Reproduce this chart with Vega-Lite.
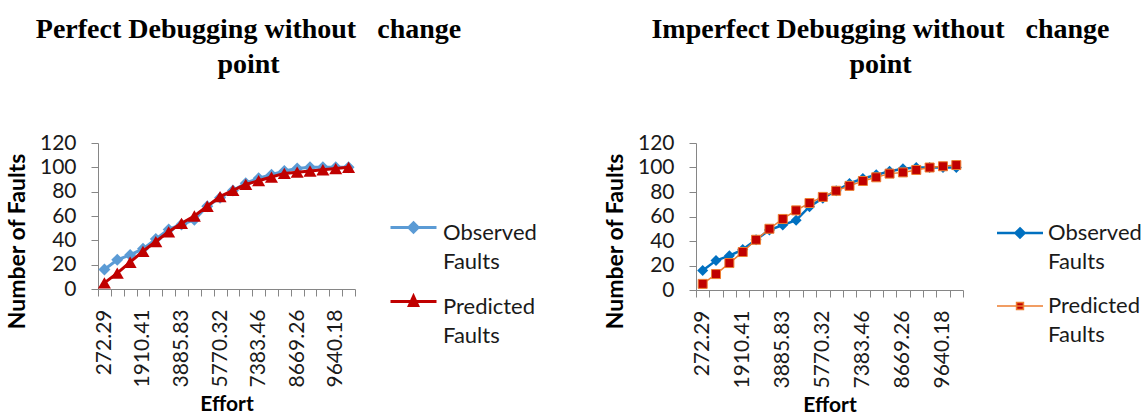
{
  "$schema": "https://vega.github.io/schema/vega-lite/v6.json",
  "padding": {"left": 6, "top": 16, "right": 0, "bottom": 0},
  "background": "white",
  "config": {"view": {"stroke": null}, "font": "Lato", "concat": {"spacing": 67}},
  "datasets": {
    "perfect": [
      {"effort": "272.29", "Observed Faults": 16, "Predicted Faults": 5},
      {"effort": "812.47", "Observed Faults": 24, "Predicted Faults": 13},
      {"effort": "1356.90", "Observed Faults": 28, "Predicted Faults": 22},
      {"effort": "1910.41", "Observed Faults": 33, "Predicted Faults": 31},
      {"effort": "2563.12", "Observed Faults": 41, "Predicted Faults": 39},
      {"effort": "3218.75", "Observed Faults": 49, "Predicted Faults": 47},
      {"effort": "3885.83", "Observed Faults": 53, "Predicted Faults": 54},
      {"effort": "4508.64", "Observed Faults": 57, "Predicted Faults": 60},
      {"effort": "5134.27", "Observed Faults": 68, "Predicted Faults": 68},
      {"effort": "5770.32", "Observed Faults": 75, "Predicted Faults": 76},
      {"effort": "6318.05", "Observed Faults": 81, "Predicted Faults": 81},
      {"effort": "6861.73", "Observed Faults": 87, "Predicted Faults": 86},
      {"effort": "7383.46", "Observed Faults": 91, "Predicted Faults": 89},
      {"effort": "7812.58", "Observed Faults": 94, "Predicted Faults": 92},
      {"effort": "8241.09", "Observed Faults": 97, "Predicted Faults": 95},
      {"effort": "8669.26", "Observed Faults": 99, "Predicted Faults": 96},
      {"effort": "8993.41", "Observed Faults": 100, "Predicted Faults": 97},
      {"effort": "9317.62", "Observed Faults": 100, "Predicted Faults": 98},
      {"effort": "9640.18", "Observed Faults": 100, "Predicted Faults": 99},
      {"effort": "9958.37", "Observed Faults": 100, "Predicted Faults": 100}
    ],
    "imperfect": [
      {"effort": "272.29", "Observed Faults": 16, "Predicted Faults": 5},
      {"effort": "812.47", "Observed Faults": 24, "Predicted Faults": 13},
      {"effort": "1356.90", "Observed Faults": 28, "Predicted Faults": 22},
      {"effort": "1910.41", "Observed Faults": 33, "Predicted Faults": 31},
      {"effort": "2563.12", "Observed Faults": 41, "Predicted Faults": 41},
      {"effort": "3218.75", "Observed Faults": 49, "Predicted Faults": 50},
      {"effort": "3885.83", "Observed Faults": 53, "Predicted Faults": 58},
      {"effort": "4508.64", "Observed Faults": 57, "Predicted Faults": 65},
      {"effort": "5134.27", "Observed Faults": 68, "Predicted Faults": 71},
      {"effort": "5770.32", "Observed Faults": 75, "Predicted Faults": 76},
      {"effort": "6318.05", "Observed Faults": 81, "Predicted Faults": 81},
      {"effort": "6861.73", "Observed Faults": 87, "Predicted Faults": 85},
      {"effort": "7383.46", "Observed Faults": 91, "Predicted Faults": 89},
      {"effort": "7812.58", "Observed Faults": 94, "Predicted Faults": 92},
      {"effort": "8241.09", "Observed Faults": 97, "Predicted Faults": 95},
      {"effort": "8669.26", "Observed Faults": 99, "Predicted Faults": 96},
      {"effort": "8993.41", "Observed Faults": 100, "Predicted Faults": 98},
      {"effort": "9317.62", "Observed Faults": 100, "Predicted Faults": 100},
      {"effort": "9640.18", "Observed Faults": 100, "Predicted Faults": 101},
      {"effort": "9958.37", "Observed Faults": 100, "Predicted Faults": 102}
    ]
  },
  "hconcat": [
    {
      "width": 257,
      "height": 146,
      "title": {"text": ["Perfect Debugging without\u00a0\u00a0 change", "point"], "font": "Liberation Serif", "fontSize": 28, "fontWeight": "bold", "lineHeight": 35, "anchor": "middle", "dx": 22, "offset": 53, "color": "#000"},
      "data": {"name": "perfect"},
      "transform": [{"fold": ["Observed Faults", "Predicted Faults"], "as": ["series", "faults"]}],
      "encoding": {
        "x": {"field": "effort", "type": "nominal", "sort": null,
          "scale": {"type": "band", "paddingInner": 0, "paddingOuter": 0},
          "axis": {"title": "Effort", "titleFontSize": 21, "titleFontWeight": "bold", "titleColor": "#000", "titlePadding": 6,
            "labelAngle": 270, "labelFontSize": 21, "labelColor": "#1a1a1a", "labelPadding": 13, "labelOverlap": false, "labelBound": false,
            "labelExpr": "indexof(['272.29','1910.41','3885.83','5770.32','7383.46','8669.26','9640.18'], datum.value) >= 0 ? datum.label : ''",
            "tickBand": "extent", "tickSize": 7, "tickColor": "#868686", "domainColor": "#868686"}},
        "y": {"field": "faults", "type": "quantitative",
          "scale": {"domain": [0, 120], "nice": false},
          "axis": {"title": "Number of Faults", "titleFontSize": 23, "titleFontWeight": "bold", "titleColor": "#000", "titlePadding": 10, "titleY": 98,
            "values": [0, 20, 40, 60, 80, 100, 120], "grid": false, "labelFontSize": 21, "labelColor": "#1a1a1a", "labelPadding": 15,
            "tickSize": 7, "tickColor": "#868686", "domainColor": "#868686"}}
      },
      "layer": [
        {"transform": [{"filter": "datum.series === 'Observed Faults'"}],
         "mark": {"type": "line", "strokeWidth": 3},
         "encoding": {"color": {"field": "series", "type": "nominal",
           "scale": {"domain": ["Observed Faults", "Predicted Faults"], "range": ["#5B9BD5", "#C00000"]},
           "legend": {"title": null, "orient": "none", "legendX": 291, "legendY": 60, "padding": 0,
             "labelFont": "Lato", "labelFontSize": 22, "labelColor": "#1a1a1a", "labelLimit": 0, "labelOffset": 5,
             "labelExpr": "split(datum.label, ' ')",
             "symbolSize": 2116, "symbolStrokeWidth": 3, "rowPadding": 4,
             "encode": {
               "symbols": {"update": {
                 "shape": {"signal": "datum.value === 'Observed Faults' ? 'M-1,0H1M0,-0.2L0.2,0L0,0.2L-0.2,0Z' : 'M-1,0H1M0,-0.22L0.18,0.17L-0.18,0.17Z'"},
                 "fill": {"signal": "datum.value === 'Observed Faults' ? '#5B9BD5' : '#C00000'"},
                 "stroke": {"signal": "datum.value === 'Observed Faults' ? '#5B9BD5' : '#C00000'"},
                 "strokeWidth": {"value": 3},
                 "opacity": {"value": 1}
               }},
               "labels": {"update": {"lineHeight": {"value": 29}, "dy": {"value": 5}}}
             }}}}},
        {"transform": [{"filter": "datum.series === 'Observed Faults'"}],
         "mark": {"type": "point", "shape": "diamond", "filled": true, "size": 144, "color": "#5B9BD5", "opacity": 1}},
        {"transform": [{"filter": "datum.series === 'Predicted Faults'"}],
         "mark": {"type": "line", "strokeWidth": 3},
         "encoding": {"color": {"field": "series", "type": "nominal"}}},
        {"transform": [{"filter": "datum.series === 'Predicted Faults'"}],
         "mark": {"type": "point", "shape": "triangle-up", "filled": true, "size": 170, "color": "#C00000", "opacity": 1}}
      ]
    },
    {
      "width": 267,
      "height": 147,
      "title": {"text": ["Imperfect Debugging without\u00a0\u00a0 change", "point"], "font": "Liberation Serif", "fontSize": 28, "fontWeight": "bold", "lineHeight": 35, "anchor": "middle", "dx": 51, "offset": 53, "color": "#000"},
      "data": {"name": "imperfect"},
      "transform": [{"fold": ["Observed Faults", "Predicted Faults"], "as": ["series", "faults"]}],
      "encoding": {
        "x": {"field": "effort", "type": "nominal", "sort": null,
          "scale": {"type": "band", "paddingInner": 0, "paddingOuter": 0},
          "axis": {"title": "Effort", "titleFontSize": 21, "titleFontWeight": "bold", "titleColor": "#000", "titlePadding": 6,
            "labelAngle": 270, "labelFontSize": 21, "labelColor": "#1a1a1a", "labelPadding": 13, "labelOverlap": false, "labelBound": false,
            "labelExpr": "indexof(['272.29','1910.41','3885.83','5770.32','7383.46','8669.26','9640.18'], datum.value) >= 0 ? datum.label : ''",
            "tickBand": "extent", "tickSize": 7, "tickColor": "#868686", "domainColor": "#868686"}},
        "y": {"field": "faults", "type": "quantitative",
          "scale": {"domain": [0, 120], "nice": false},
          "axis": {"title": "Number of Faults", "titleFontSize": 23, "titleFontWeight": "bold", "titleColor": "#000", "titlePadding": 10, "titleY": 98,
            "values": [0, 20, 40, 60, 80, 100, 120], "grid": false, "labelFontSize": 21, "labelColor": "#1a1a1a", "labelPadding": 15,
            "tickSize": 7, "tickColor": "#868686", "domainColor": "#868686"}}
      },
      "layer": [
        {"transform": [{"filter": "datum.series === 'Observed Faults'"}],
         "mark": {"type": "line", "strokeWidth": 2.5},
         "encoding": {"color": {"field": "series", "type": "nominal",
           "scale": {"domain": ["Observed Faults", "Predicted Faults"], "range": ["#0070C0", "#ED7D31"]},
           "legend": {"title": null, "orient": "none", "legendX": 313, "legendY": 79, "padding": 0,
             "labelFont": "Lato", "labelFontSize": 22, "labelColor": "#1a1a1a", "labelLimit": 0, "labelOffset": 17,
             "labelExpr": "split(datum.label, ' ')",
             "symbolSize": 2116, "symbolStrokeWidth": 2, "rowPadding": 22,
             "encode": {
               "symbols": {"update": {
                 "shape": {"signal": "datum.value === 'Observed Faults' ? 'M-1,0H1M0,-0.2L0.2,0L0,0.2L-0.2,0Z' : 'M-1,0H1M-0.15,-0.15H0.15V0.15H-0.15Z'"},
                 "fill": {"signal": "datum.value === 'Observed Faults' ? '#0070C0' : '#C00000'"},
                 "stroke": {"signal": "datum.value === 'Observed Faults' ? '#0070C0' : '#ED7D31'"},
                 "strokeWidth": {"signal": "datum.value === 'Observed Faults' ? 2.5 : 1.5"},
                 "opacity": {"value": 1}
               }},
               "labels": {"update": {"lineHeight": {"value": 29}}}
             }}}}},
        {"transform": [{"filter": "datum.series === 'Observed Faults'"}],
         "mark": {"type": "point", "shape": "diamond", "filled": true, "size": 121, "color": "#0070C0", "opacity": 1}},
        {"transform": [{"filter": "datum.series === 'Predicted Faults'"}],
         "mark": {"type": "line", "strokeWidth": 1.5},
         "encoding": {"color": {"field": "series", "type": "nominal"}}},
        {"transform": [{"filter": "datum.series === 'Predicted Faults'"}],
         "mark": {"type": "point", "shape": "square", "filled": true, "size": 81, "fill": "#C00000", "stroke": "#ED7D31", "strokeWidth": 1, "opacity": 1}}
      ]
    }
  ],
  "resolve": {"scale": {"color": "independent"}, "legend": {"color": "independent"}}
}
